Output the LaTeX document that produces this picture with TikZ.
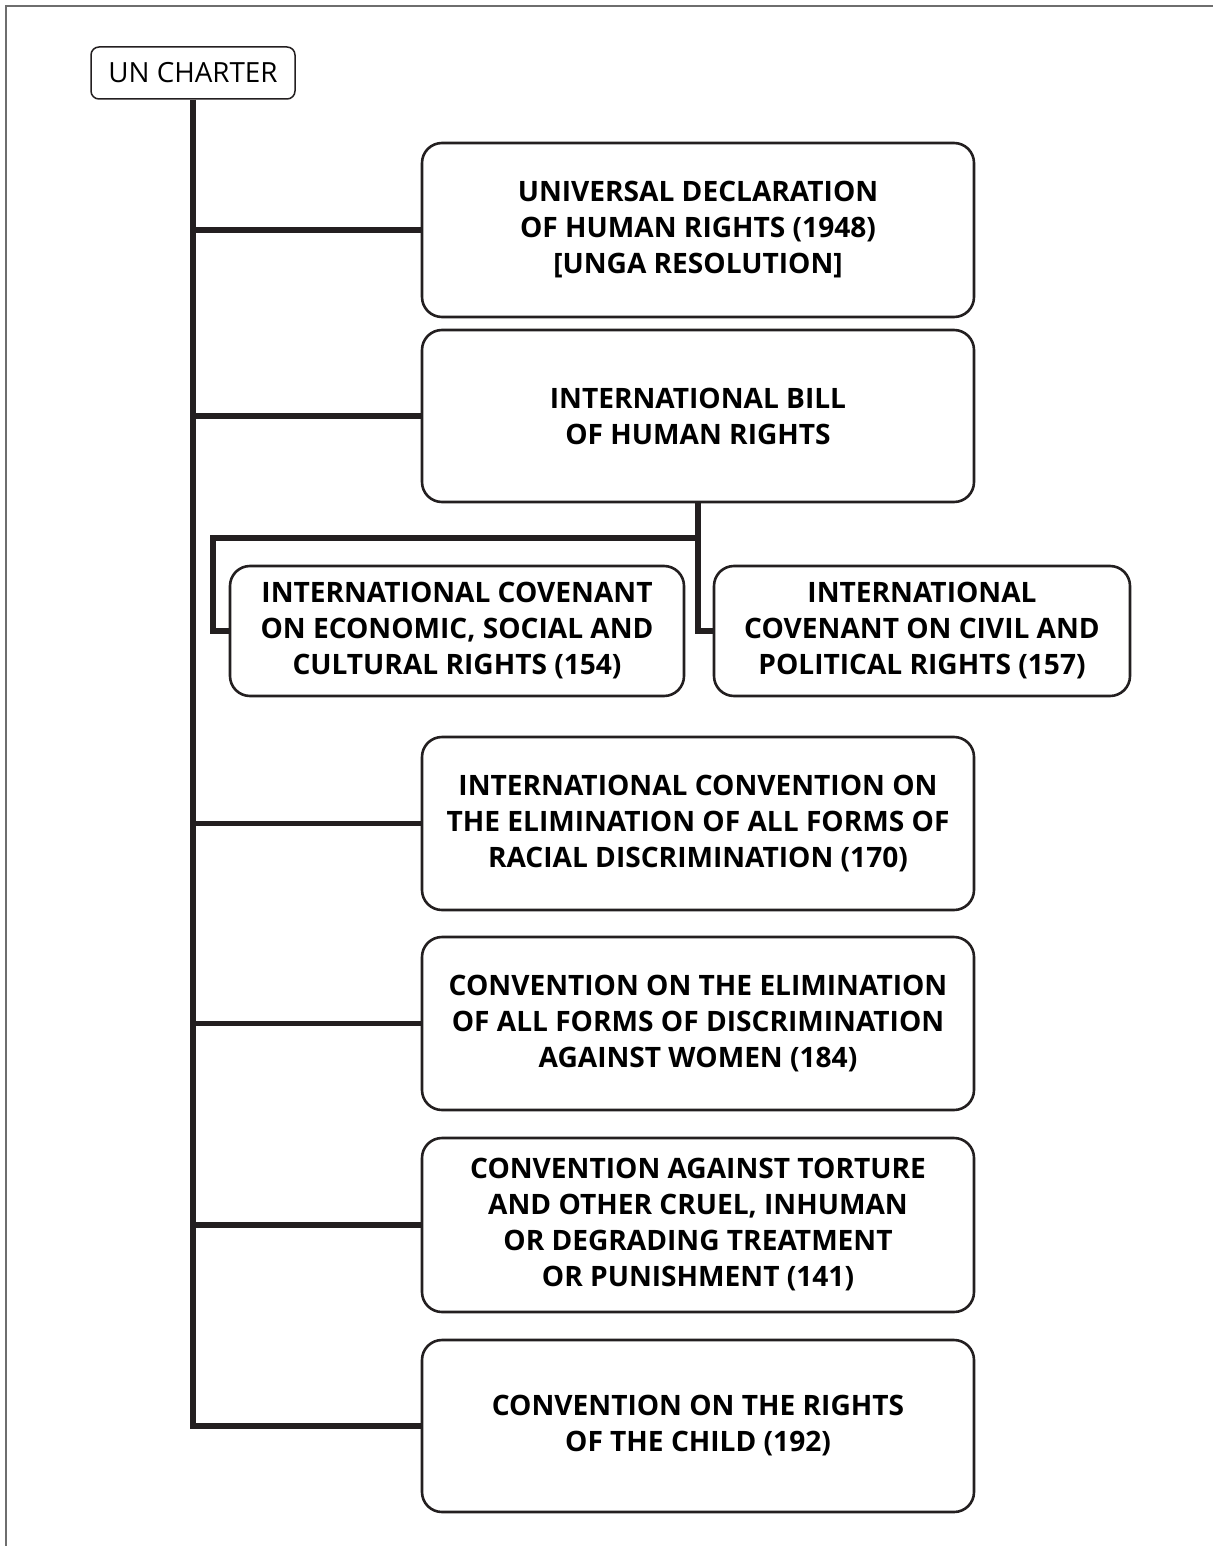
\documentclass[tikz,border=0pt]{standalone}
\usepackage{fontspec}
\setmainfont{Open Sans}
\definecolor{ink}{HTML}{231F20}
\definecolor{frame}{HTML}{6E6E6E}
\begin{document}
\begin{tikzpicture}[x=.5pt,y=-.5pt,
    box/.style={draw=ink,line width=1.3pt,rounded corners=10pt,align=center,inner sep=0pt,
      font=\bfseries\fontsize{14.05}{18}\selectfont},
    link/.style={draw=ink,line width=2.6pt}]
      \useasboundingbox (0,0) rectangle (1213,1546);
      \draw[frame,line width=1.2pt] (6,1546) -- (6,6) -- (1213,6);
      \node[draw=ink,line width=.75pt,rounded corners=4pt,minimum width=102pt,minimum height=26pt,inner sep=0pt,
        font=\fontsize{13.9}{16}\selectfont] (charter) at (193,73) {UN CHARTER};
      \node[box,minimum width=276pt,minimum height=87pt] (udhr) at (698,230)
        {UNIVERSAL DECLARATION\\OF HUMAN RIGHTS (1948)\\{}[UNGA RESOLUTION]};
      \node[box,minimum width=276pt,minimum height=86pt] (bill) at (698,416)
        {INTERNATIONAL BILL\\OF HUMAN RIGHTS};
      \node[box,minimum width=227pt,minimum height=65pt] (icescr) at (457,631)
        {INTERNATIONAL COVENANT\\ON ECONOMIC, SOCIAL AND\\CULTURAL RIGHTS (154)};
      \node[box,minimum width=208pt,minimum height=65pt] (iccpr) at (922,631)
        {INTERNATIONAL\\COVENANT ON CIVIL AND\\POLITICAL RIGHTS (157)};
      \node[box,minimum width=276pt,minimum height=86.5pt] (cerd) at (698,823.5)
        {INTERNATIONAL CONVENTION ON\\THE ELIMINATION OF ALL FORMS OF\\RACIAL DISCRIMINATION (170)};
      \node[box,minimum width=276pt,minimum height=86.5pt] (cedaw) at (698,1023.5)
        {CONVENTION ON THE ELIMINATION\\OF ALL FORMS OF DISCRIMINATION\\AGAINST WOMEN (184)};
      \node[box,minimum width=276pt,minimum height=87pt] (cat) at (698,1225)
        {CONVENTION AGAINST TORTURE\\AND OTHER CRUEL, INHUMAN\\OR DEGRADING TREATMENT\\OR PUNISHMENT (141)};
      \node[box,minimum width=276pt,minimum height=86pt] (crc) at (698,1426)
        {CONVENTION ON THE RIGHTS\\OF THE CHILD (192)};
      \draw[link] (charter.south) |- (crc.west);
      \foreach \b in {udhr,bill,cerd,cedaw,cat}
        \draw[link] (charter.south |- \b.west) -- (\b.west);
      \coordinate (split) at (698,538);
      \coordinate (elbow) at (213,538);
      \draw[link] (bill.south) |- (iccpr.west);
      \draw[link] (split) -- (elbow) |- (icescr.west);
    \end{tikzpicture}
\end{document}
